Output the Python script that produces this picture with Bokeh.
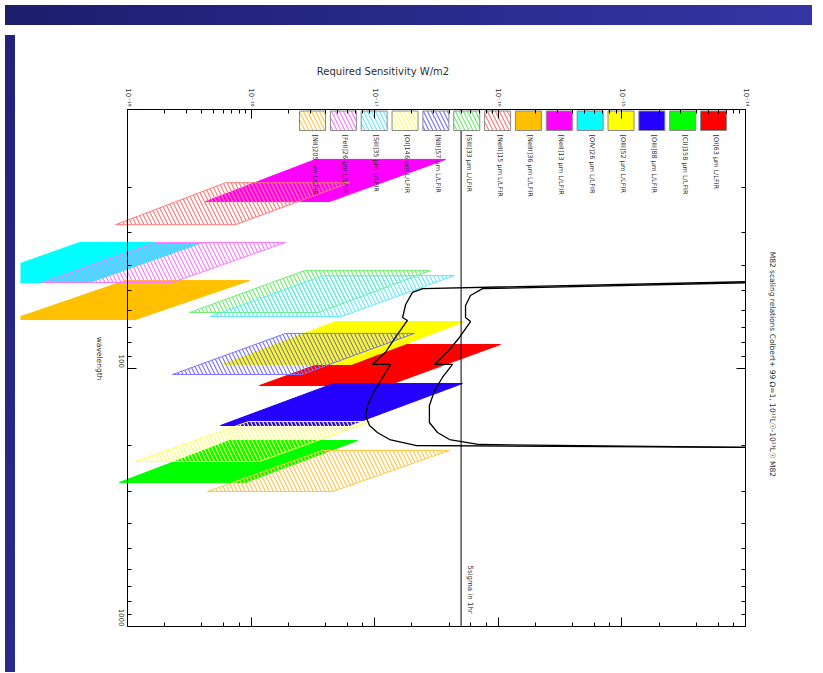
import math
from bokeh.plotting import figure
from bokeh.models import (Range1d, LogAxis, CustomJSTickFormatter, Div, ColumnDataSource,
                          FixedTicker, Label)
from bokeh.layouts import column, row
from bokeh.core.properties import value
from bokeh.embed import file_html
from bokeh.resources import INLINE

# ---------------- data ----------------
line_names = ["[OI]63 \u03bcm L/LFIR", "[CII]158 \u03bcm L/LFIR", "[OIII]88 \u03bcm L/LFIR",
              "[OIII]52 \u03bcm L/LFIR", "[OIV]26 \u03bcm L/LFIR", "[NeII]13 \u03bcm L/LFIR",
              "[NeIII]36 \u03bcm L/LFIR", "[NeIII]15 \u03bcm L/LFIR", "[SIII]33 \u03bcm L/LFIR",
              "[NIII]57 \u03bcm L/LFIR", "[OI]146 \u03bcm L/LFIR", "[SiII]35 \u03bcm L/LFIR",
              "[FeII]26 \u03bcm L/LFIR", "[NII]205 \u03bcm L/LFIR"]
is_solid = [True] * 7 + [False] * 7
# observed wavelength range (micron): short end / long end
lam_short = [81.1, 190.8, 114.8, 66.1, 32.7, 15.6, 45.9, 19.2, 42.0, 73.5, 161.1, 43.9, 32.7, 208.5]
lam_long = [116.9, 277.3, 166.9, 96.9, 46.7, 22.7, 64.9, 27.9, 61.0, 106.0, 230.0, 63.2, 46.7, 300.4]
# line flux (W/m2) at the short end for the faint / bright luminosity
flux_short_lo = [9.59e-18, 6.68e-19, 4.65e-18, 4.82e-18, 4.09e-20, 3.32e-18, 9.6e-20,
                 6.21e-19, 2.70e-18, 1.90e-18, 9.53e-19, 3.85e-18, 1.69e-19, 3.78e-18]
flux_short_hi = [1.04e-16, 7.26e-18, 5.13e-17, 5.33e-17, 4.05e-19, 3.74e-17, 9.70e-19,
                 6.25e-18, 2.82e-17, 2.10e-17, 9.25e-18, 4.43e-17, 1.90e-18, 4.03e-17]
# line flux (W/m2) at the long end for the faint / bright luminosity
flux_long_lo = [1.17e-18, 8.6e-20, 5.65e-19, 5.87e-19, 5.0e-21, 4.28e-19, 1.17e-20,
                8.0e-20, 3.18e-19, 2.31e-19, 1.16e-19, 4.69e-19, 2.05e-20, 4.44e-19]
flux_long_hi = [1.27e-17, 9.02e-19, 6.25e-18, 6.49e-18, 4.93e-20, 4.31e-18, 1.16e-19,
                7.48e-19, 3.51e-18, 2.56e-18, 1.17e-18, 5.38e-18, 2.31e-19, 4.56e-18]

# instrument sensitivity curves
sens_a_lam = [46.3, 49.3, 51.0, 56.8, 63.8, 65.5, 76.2, 87.1, 96.9, 96.9, 108.8, 122.2,
              139.7, 152.7, 166.9, 177.6, 189.1, 199.4, 203.0]
sens_a_flux = [1.2e-14, 2.44e-17, 2.02e-17, 1.78e-17, 1.68e-17, 1.84e-17, 1.47e-17, 1.22e-17,
               9.59e-18, 1.34e-17, 1.16e-17, 9.96e-18, 8.74e-18, 8.43e-18, 9.08e-18, 1.05e-17,
               1.32e-17, 2.14e-17, 1.2e-14]
sens_b_lam = [46.7, 49.3, 52.4, 57.3, 63.8, 66.1, 76.2, 84.8, 96.9, 96.9, 108.8, 122.2,
              139.7, 162.5, 177.6, 189.1, 197.7, 203.0]
sens_b_flux = [1.2e-14, 7.45e-17, 5.96e-17, 5.43e-17, 5.43e-17, 5.96e-17, 4.85e-17, 4.03e-17,
               3.05e-17, 4.26e-17, 3.53e-17, 3.05e-17, 2.77e-17, 2.77e-17, 3.22e-17, 4.03e-17,
               7.05e-17, 1.2e-14]
limit_flux = 5e-17
limit_text = "5sigma in 1hr"

x_ticks_exp = [-19, -14]
y_major_ticks = [10, 100, 1000]
y_minor_ticks = [20, 30, 40, 50, 60, 70, 80, 90, 200, 300, 400, 500, 600, 700, 800, 900]
x_title = "Required Sensitivity W/m2"
y_title = "wavelength"
title_text = "M82 scaling relations Colbert+ 99  \u03a9=1,  10\u00b9\u00b2L\u2609-10\u00b9\u00b3L\u2609  M82"

# ---------------- styles ----------------
solid_colors = ["#ff0000", "#00ff00", "#2400ff", "#ffff00", "#00ffff", "#ff00ff", "#ffc000"]
hatch_colors = ["#ff7a7a", "#6fef6f", "#7a74ff", "#ffff66", "#66e8ff", "#ff7aff", "#ffc848"]
colors = solid_colors + hatch_colors
FONT_NAME = "DejaVu Sans"
FONT = value(FONT_NAME)
TXT = "#303030"

FRAME_W, FRAME_H = 725, 517
X0, X1 = -19.866, -14.0


def x_at(px):
    return 10 ** (X0 + px / FRAME_W * (X1 - X0))


def y_at(py):
    return 10 ** (1 + py / FRAME_H * 2)


p = figure(frame_width=FRAME_W, frame_height=FRAME_H,
           x_axis_type="log", y_axis_type="log",
           x_range=Range1d(10 ** X0, 10 ** X1), y_range=Range1d(1000, 10),
           x_axis_location="above", output_backend="svg", toolbar_location=None,
           min_border_left=0, min_border_right=72, min_border_top=79, min_border_bottom=41,
           background_fill_color="white", border_fill_color="white")
p.outline_line_color = None
p.grid.visible = False

sup_code = """
const e = Math.round(Math.log10(tick));
const sup = {'-':'\u207b','0':'\u2070','1':'\u00b9','2':'\u00b2','3':'\u00b3','4':'\u2074',
             '5':'\u2075','6':'\u2076','7':'\u2077','8':'\u2078','9':'\u2079'};
return '10' + String(e).split('').map(c => sup[c]).join('');
"""
plain_code = "return Math.round(tick).toString();"

bounds_x = (10.0 ** x_ticks_exp[0], 10.0 ** x_ticks_exp[1])


def style_axis(ax):
    ax.axis_line_color = "black"
    ax.major_tick_line_color = "black"
    ax.minor_tick_line_color = "black"
    ax.major_tick_in = 9
    ax.major_tick_out = 0
    ax.minor_tick_in = 4
    ax.minor_tick_out = 0
    ax.major_label_text_font = FONT_NAME
    ax.major_label_text_font_size = "7px"
    ax.major_label_text_color = TXT
    ax.axis_label_text_font = FONT_NAME
    ax.axis_label_text_font_style = "normal"
    ax.axis_label_text_color = TXT


def y_ticker():
    return FixedTicker(ticks=y_major_ticks, minor_ticks=y_minor_ticks)


top = p.xaxis[0]
style_axis(top)
top.bounds = bounds_x
top.formatter = CustomJSTickFormatter(code=sup_code)
top.major_label_orientation = -math.pi / 2
top.major_label_standoff = 3
top.axis_label = x_title
top.axis_label_text_font_size = "10px"
top.axis_label_standoff = 8

left = p.yaxis[0]
style_axis(left)
left.ticker = y_ticker()
left.fixed_location = 1e-19
left.formatter = CustomJSTickFormatter(code=plain_code)
left.major_label_orientation = -math.pi / 2
left.major_label_standoff = 6

right_ax = LogAxis(ticker=y_ticker())
style_axis(right_ax)
right_ax.major_label_text_alpha = 0
right_ax.major_label_text_font_size = "3px"
right_ax.major_label_standoff = 0
right_ax.axis_label = title_text
right_ax.axis_label_text_font_size = "7.5px"
right_ax.axis_label_standoff = 22
p.add_layout(right_ax, "right")

bottom_ax = LogAxis(bounds=bounds_x)
style_axis(bottom_ax)
bottom_ax.major_label_text_alpha = 0
bottom_ax.major_label_text_font_size = "3px"
p.add_layout(bottom_ax, "below")

# the first wavelength label sits at the frame corner, outside the frame
p.add_layout(Label(x=x_at(92), y=y_major_ticks[0], text=str(y_major_ticks[0]), angle=-math.pi / 2,
                   y_offset=15, text_align="center", text_baseline="middle",
                   text_font=FONT_NAME, text_font_size="7px", text_color=TXT))

# ---------------- parallelograms ----------------
xs = [[a, b, c, d] for a, b, c, d in zip(flux_short_lo, flux_short_hi, flux_long_hi, flux_long_lo)]
ys = [[s, s, l, l] for s, l in zip(lam_short, lam_long)]
solid_idx = [i for i in range(len(line_names)) if is_solid[i]]
hatch_idx = [i for i in range(len(line_names)) if not is_solid[i]]

src_s = ColumnDataSource(dict(xs=[xs[i] for i in solid_idx], ys=[ys[i] for i in solid_idx],
                              c=[colors[i] for i in solid_idx]))
p.patches("xs", "ys", source=src_s, fill_color="c", line_color="c", line_width=1)

src_h = ColumnDataSource(dict(xs=[xs[i] for i in hatch_idx], ys=[ys[i] for i in hatch_idx],
                              c=[colors[i] for i in hatch_idx]))
p.patches("xs", "ys", source=src_h, fill_alpha=0, line_color="c", line_width=1,
          hatch_pattern="\\", hatch_color="c", hatch_scale=8, hatch_weight=1.2)

# ---------------- sensitivity curves ----------------
p.line(sens_a_flux, sens_a_lam, line_color="black", line_width=1.3)
p.line(sens_b_flux, sens_b_lam, line_color="black", line_width=1.3)
p.segment(x0=[limit_flux], y0=[10], x1=[limit_flux], y1=[1000], line_color="black", line_width=1)
p.text(x=[limit_flux * 1.17], y=[y_at(456)], text=[limit_text], angle=-math.pi / 2,
       text_align="left", text_baseline="middle", text_font=FONT,
       text_font_size="7px", text_color=TXT)

# y-axis title (left of the axis line, which sits inside the frame)
p.text(x=[x_at(79)], y=[y_at(249)], text=[y_title], angle=-math.pi / 2,
       text_align="center", text_baseline="middle", text_font=FONT,
       text_font_size="7.5px", text_color=TXT)

# ---------------- legend (drawn in the plot like the original) ----------------
n = len(line_names)
slot = [n - 1 - i for i in range(n)]
box_l = [x_at(279 + 30.85 * k) for k in slot]
box_r = [x_at(305 + 30.85 * k) for k in slot]
box_c = [x_at(294 + 30.85 * k) for k in slot]
src_ls = ColumnDataSource(dict(l=[box_l[i] for i in solid_idx], r=[box_r[i] for i in solid_idx],
                               c=[colors[i] for i in solid_idx]))
src_lh = ColumnDataSource(dict(l=[box_l[i] for i in hatch_idx], r=[box_r[i] for i in hatch_idx],
                               c=[colors[i] for i in hatch_idx]))
p.quad(left="l", right="r", top=y_at(1.5), bottom=y_at(21), source=src_ls,
       fill_color="c", line_color="#8a8a8a", line_width=1)
p.quad(left="l", right="r", top=y_at(1.5), bottom=y_at(21), source=src_lh,
       fill_color="white", line_color="#8a8a8a", line_width=1,
       hatch_pattern="\\", hatch_color="c", hatch_scale=8, hatch_weight=1.2)
p.text(x=box_c, y=[y_at(25)] * n, text=line_names, angle=-math.pi / 2,
       text_align="left", text_baseline="middle", text_font=FONT,
       text_font_size="6.5px", text_color=TXT)

# ---------------- page background strips ----------------
top_strip = Div(width=807, height=20,
                styles={"background": "linear-gradient(to right, #1d1d6e, #3535a6)"})
left_strip = Div(width=10, height=637,
                 styles={"background": "linear-gradient(to bottom, #22227a, #2a2a8c)"})
layout = column(top_strip, row(left_strip, p))

open("out.html", "w").write(file_html(layout, INLINE))
